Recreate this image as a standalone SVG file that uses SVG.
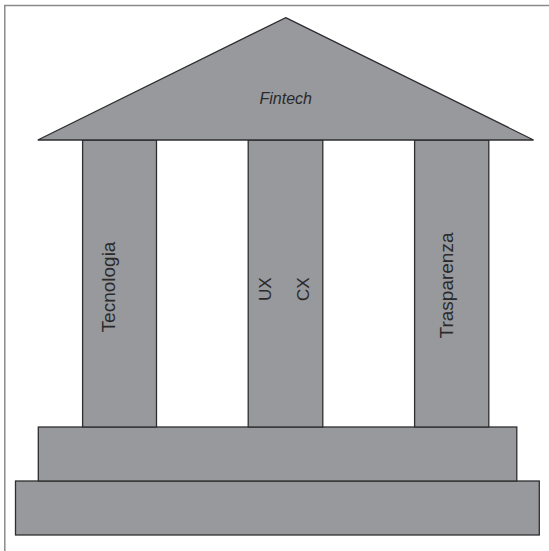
<svg xmlns="http://www.w3.org/2000/svg" width="549" height="551" viewBox="0 0 549 551">
<style>
.part{fill:#98999c;stroke:#2e2e30;stroke-width:1.3;stroke-linejoin:miter}
.frame{fill:none;stroke:#8a8a8a;stroke-width:1.5}
.lbl{font-family:"Liberation Sans",Arial,sans-serif;fill:#2a2a2c}
</style>
<rect width="549" height="551" fill="#ffffff"/>
<polyline class="frame" points="4.8,551 4.8,5.6 549,5.6"/>
<g id="lower-step"><rect class="part" x="15.5" y="481" width="523.8" height="54"/></g>
<g id="upper-step"><rect class="part" x="38.3" y="427" width="478.5" height="54"/></g>
<g id="pillar-tecnologia">
<rect class="part" x="82.6" y="140" width="73.9" height="287"/>
<text class="lbl" font-size="19" text-anchor="middle" transform="translate(115,287) rotate(-90)">Tecnologia</text>
</g>
<g id="pillar-uxcx">
<rect class="part" x="248.2" y="140" width="74.6" height="287"/>
<text class="lbl" font-size="17" text-anchor="middle" transform="translate(271.2,289.3) rotate(-90)">UX</text>
<text class="lbl" font-size="17" text-anchor="middle" transform="translate(308.5,289.3) rotate(-90)">CX</text>
</g>
<g id="pillar-trasparenza">
<rect class="part" x="414.6" y="140" width="74.2" height="287"/>
<text class="lbl" font-size="19" text-anchor="middle" transform="translate(453,285.5) rotate(-90)">Trasparenza</text>
</g>
<g id="roof">
<polygon class="part" points="285.7,17.6 533.6,140 37.8,140"/>
<text class="lbl" font-size="16" font-style="italic" text-anchor="middle" x="285.7" y="103.7">Fintech</text>
</g>
</svg>
